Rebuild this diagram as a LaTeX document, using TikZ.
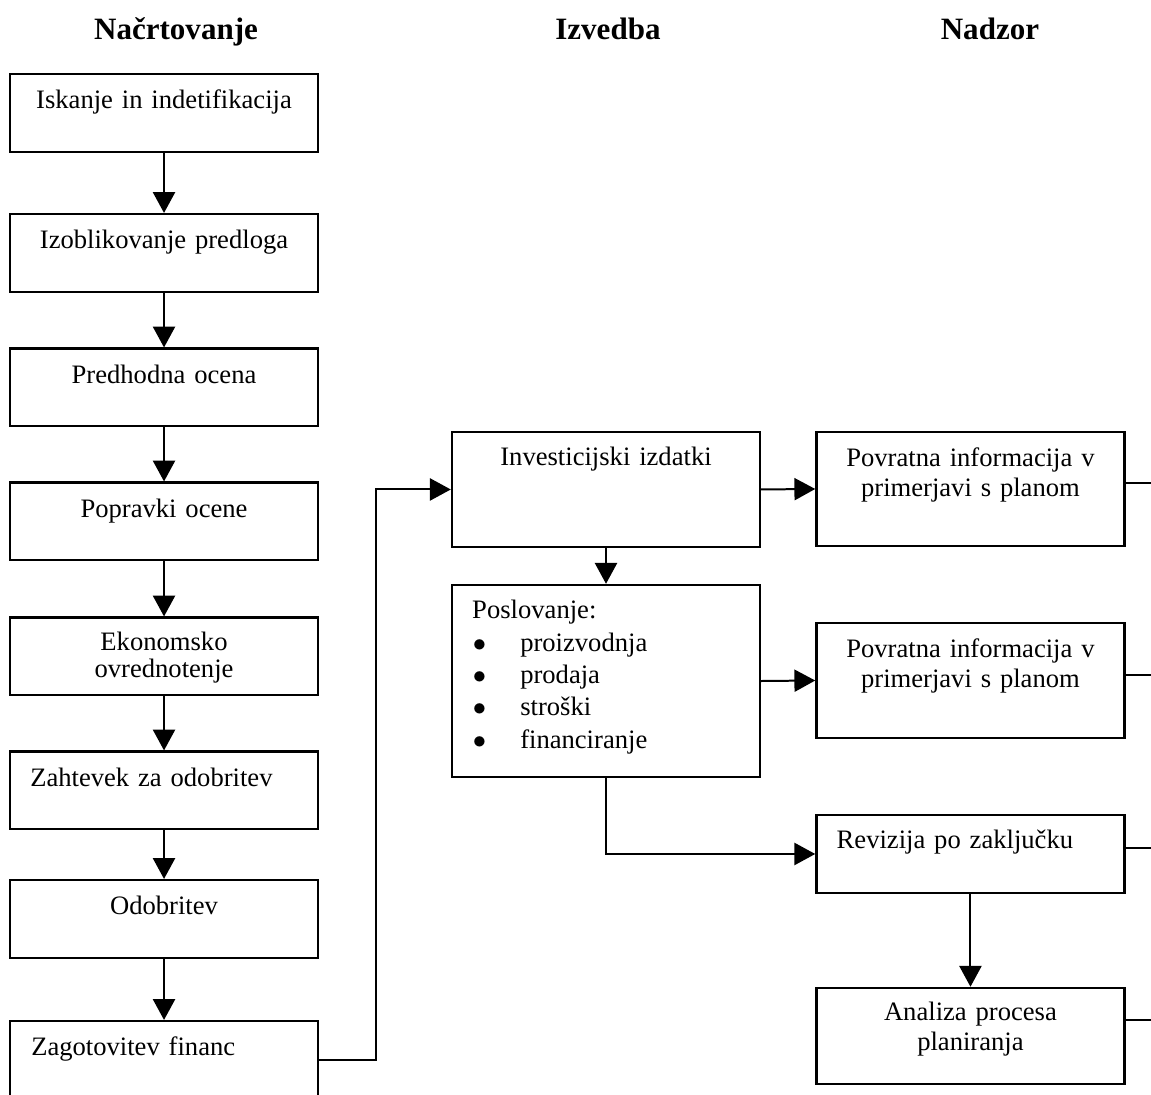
\documentclass[tikz,border=0pt]{standalone}
\usepackage{fontspec}
\setmainfont{Liberation Serif}
\usetikzlibrary{arrows.meta}
\newcommand{\listdot}{\makebox[0.761cm][l]{\hspace{0.01cm}$\bullet$}}

\begin{document}
\begin{tikzpicture}[
	font=\fontsize{12pt}{13.6pt}\selectfont,
	stepbox/.style={shape=rectangle, draw, line width=1.1pt, minimum width=4.882cm, minimum height=1.23cm, inner sep=0pt},
	ctxt/.style={anchor=base, align=center, text width=4.6cm, inner sep=0pt},
	ltxt/.style={anchor=base west, align=left, text width=4.4cm, inner sep=0pt},
	head/.style={anchor=base, font=\fontsize{14pt}{16pt}\selectfont\bfseries},
	wire/.style={line width=0.9pt},
	arrow/.style={wire, -{Triangle[length=0.33cm, width=0.35cm]}}
]
	\useasboundingbox (0, 0) rectangle (18.245, 17.357);
	% Headings:
	\node[head](hplan) at (2.790, 16.723){Načrtovanje};
	\node[head](hexec) at (9.637, 16.723){Izvedba};
	\node[head](hctrl) at (15.692, 16.723){Nadzor};
	% Planning column:
	\node[stepbox](iskanje) at (2.600, 15.566){} node[ctxt](iskanje-t) at ([yshift=-0.571cm]iskanje.north){Iskanje in indetifikacija};
	\node[stepbox](izob) at (2.600, 13.347){} node[ctxt](izob-t) at ([yshift=-0.571cm]izob.north){Izoblikovanje predloga};
	\node[stepbox](predh) at (2.600, 11.215){} node[ctxt](predh-t) at ([yshift=-0.571cm]predh.north){Predhodna ocena};
	\node[stepbox](poprav) at (2.600, 9.091){} node[ctxt](poprav-t) at ([yshift=-0.571cm]poprav.north){Popravki ocene};
	\node[stepbox](ekon) at (2.600, 6.951){} node[ctxt, font=\fontsize{12pt}{12.4pt}\selectfont](ekon-t) at ([yshift=-0.539cm]ekon.north){Ekonomsko\\ovrednotenje};
	\node[stepbox](zaht) at (2.600, 4.827){} node[ltxt](zaht-t) at ([xshift=0.333cm, yshift=-0.571cm]zaht.north west){Zahtevek za odobritev};
	\node[stepbox](odob) at (2.600, 2.790){} node[ctxt](odob-t) at ([yshift=-0.571cm]odob.north){Odobritev};
	\node[stepbox](zagot) at (2.600, 0.555){} node[ltxt](zagot-t) at ([xshift=0.349cm, yshift=-0.571cm]zagot.north west){Zagotovitev financ};
	\draw[arrow] (iskanje.south) -- (izob.north);
	\draw[arrow] (izob.south) -- (predh.north);
	\draw[arrow] (predh.south) -- (poprav.north);
	\draw[arrow] (poprav.south) -- (ekon.north);
	\draw[arrow] (ekon.south) -- (zaht.north);
	\draw[arrow] (zaht.south) -- (odob.north);
	\draw[arrow] (odob.south) -- (zagot.north);
	% Execution column:
	\node[stepbox, minimum height=1.823cm](invest) at (9.606, 9.598){} node[ctxt](invest-t) at ([yshift=-0.555cm]invest.north){Investicijski izdatki};
	\node[stepbox, minimum height=3.043cm](poslov) at (9.606, 6.562){} node[ltxt, font=\fontsize{12pt}{14.6pt}\selectfont](poslov-t) at ([xshift=0.333cm, yshift=-0.555cm]poslov.north west){Poslovanje:\\\listdot proizvodnja\\\listdot prodaja\\\listdot stroški\\\listdot financiranje};
	\coordinate (bend) at (5.960, 0);
	\draw[arrow] (zagot.east) -| (bend |- invest.west) -- (invest.west);
	\draw[arrow] (invest.south) -- (poslov.north);
	% Control column:
	\node[stepbox, minimum height=1.807cm](povr1) at (15.383, 9.606){} node[ctxt](povr1-t) at ([yshift=-0.571cm]povr1.north){Povratna informacija v\\primerjavi s planom};
	\node[stepbox, minimum height=1.823cm](povr2) at (15.383, 6.570){} node[ctxt](povr2-t) at ([yshift=-0.571cm]povr2.north){Povratna informacija v\\primerjavi s planom};
	\node[stepbox, minimum height=1.236cm](reviz) at (15.383, 3.820){} node[ltxt](reviz-t) at ([xshift=0.333cm, yshift=-0.555cm]reviz.north west){Revizija po zaključku};
	\node[stepbox, minimum height=1.522cm](anal) at (15.383, 0.935){} node[ctxt](anal-t) at ([yshift=-0.539cm]anal.north){Analiza procesa\\planiranja};
	\draw[arrow] (invest.east) -- (povr1.west);
	\draw[arrow] (poslov.east) -- (povr2.west);
	\draw[arrow] (poslov.south) |- (reviz.west);
	\draw[arrow] (reviz.south) -- (anal.north);
	% Lines leaving at the right edge:
	\coordinate (out1) at (18.245, 9.701);
	\coordinate (out2) at (18.245, 6.657);
	\coordinate (out3) at (18.245, 3.915);
	\coordinate (out4) at (18.245, 1.189);
	\draw[wire] (povr1.east |- out1) -- (out1);
	\draw[wire] (povr2.east |- out2) -- (out2);
	\draw[wire] (reviz.east |- out3) -- (out3);
	\draw[wire] (anal.east |- out4) -- (out4);
\end{tikzpicture}
\end{document}
